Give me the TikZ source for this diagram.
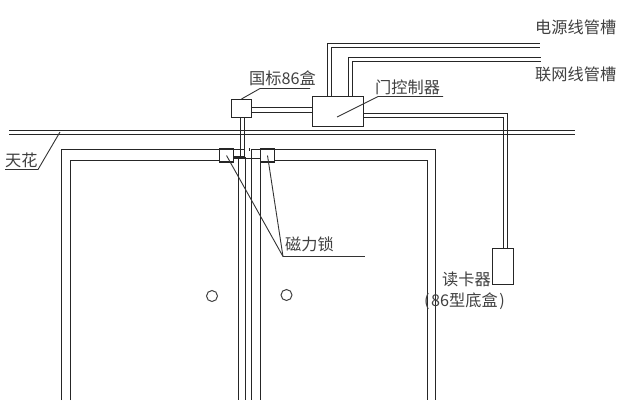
\documentclass[tikz,border=0pt]{standalone}
\usepackage{fontspec}
\setmainfont{Noto Sans CJK SC}
\tikzset{
  ln/.style={draw=black!85,line width=1.05pt},
  thin ln/.style={draw=black!80,line width=0.9pt},
  boxn/.style={draw=black!85,line width=1.05pt,fill=white,inner sep=0pt,minimum width=#1},
  lab/.style={inner sep=0pt,text=black!75,font=\fontsize{16.2}{17}\selectfont},
  knob/.style={circle,draw=black!75,line width=1pt,inner sep=0pt,minimum size=11pt}
}
\begin{document}
\begin{tikzpicture}[x=1pt,y=-1pt]
\useasboundingbox (0,0) rectangle (623,400);
% ceiling
\draw[ln,line width=1.5pt] (9,130.5) -- (575,130.5);
\draw[ln,line width=1.5pt] (9,134.5) -- (575,134.5);
% door frame
\draw[ln] (61.5,400) -- (61.5,149.5) -- (244.5,149.5);
\draw[ln] (70.5,400) -- (70.5,160.5) -- (219,160.5);
\draw[ln] (251.5,149.5) -- (435.5,149.5) -- (435.5,400);
\draw[ln] (274,160.5) -- (427.5,160.5) -- (427.5,400);
\draw[ln] (233,158.5) -- (260,158.5);
% door leaf edges
\draw[ln] (238.5,158) -- (238.5,400);
\draw[ln] (245.5,157) -- (245.5,400);
\draw[ln] (251.5,149) -- (251.5,400);
\draw[ln] (260.5,160) -- (260.5,400);
\draw[ln] (249.5,148) -- (249.5,151);
% boxes
\node[boxn=20pt,minimum height=18pt] (boxA) at (241.5,108.5) {};
\node[boxn=51pt,minimum height=30pt] (ctrl) at (338,111.5) {};
\node[boxn=21pt,minimum height=36pt] (reader) at (503,266.5) {};
\node[boxn=14pt,minimum height=13pt] (lockL) at (226.5,155.5) {};
\node[boxn=14pt,minimum height=13pt] (lockR) at (267.5,155.5) {};
% box to controller
\draw[ln] (boxA.east |- 0,107.5) -- (ctrl.west |- 0,107.5);
\draw[ln] (boxA.east |- 0,112.5) -- (ctrl.west |- 0,112.5);
% box to locks
\draw[ln] (240.5,117) -- (240.5,157);
\draw[ln] (244.5,117) -- (244.5,157) -- (233,157);
% controller to trunking
\coordinate (powerA) at (540,43.5);
\coordinate (powerB) at (540,47.5);
\coordinate (netA) at (541,57.5);
\coordinate (netB) at (541,61.5);
\draw[ln] (ctrl.north -| 327.5,0) |- (powerA);
\draw[ln] (ctrl.north -| 331.5,0) |- (powerB);
\draw[ln] (ctrl.north -| 348.5,0) |- (netA);
\draw[ln] (ctrl.north -| 352.5,0) |- (netB);
% controller to reader
\draw[ln] (ctrl.east |- 0,113.5) -| (reader.north -| 507.5,0);
\draw[ln] (ctrl.east |- 0,117.5) -| (reader.north -| 503.5,0);
% handles
\node[knob] (knobL) at (212,296) {};
\node[knob] (knobR) at (286.5,295) {};
% labels
\node[lab,anchor=west] (t86) at (249,78) {国标86盒};
\node[lab,anchor=west] (tctrl) at (375,87) {门控制器};
\node[lab,anchor=west] (tpower) at (535,27) {电源线管槽};
\node[lab,anchor=west] (tnet) at (535,74) {联网线管槽};
\node[lab,anchor=west] (tceil) at (5,160) {天花};
\node[lab,anchor=west] (tlock) at (285,244) {磁力锁};
\node[lab,anchor=west] (tread) at (442,279) {读卡器};
\node[lab,anchor=west] (tbox) at (424,301) {(\hspace{1.5pt}86型底盒\hspace{1.5pt})};
% leaders
\coordinate (u86) at (260,88.5);
\draw[thin ln] (boxA.north) -- (u86) -- (310,88.5);
\coordinate (uctrl) at (378,96.5);
\coordinate (ctrlIn) at (337,117);
\draw[thin ln] (ctrlIn) -- (uctrl) -- (443,96.5);
\coordinate (uceil) at (38,169.5);
\coordinate (ceilPt) at (60,132);
\draw[thin ln] (5,169.5) -- (uceil) -- (ceilPt);
\coordinate (ulock) at (283,256.5);
\draw[thin ln] (ulock) -- (365,256.5);
\draw[thin ln] (lockL.center) -- (ulock);
\draw[thin ln] (lockR.center) -- (ulock);
\end{tikzpicture}
\end{document}
